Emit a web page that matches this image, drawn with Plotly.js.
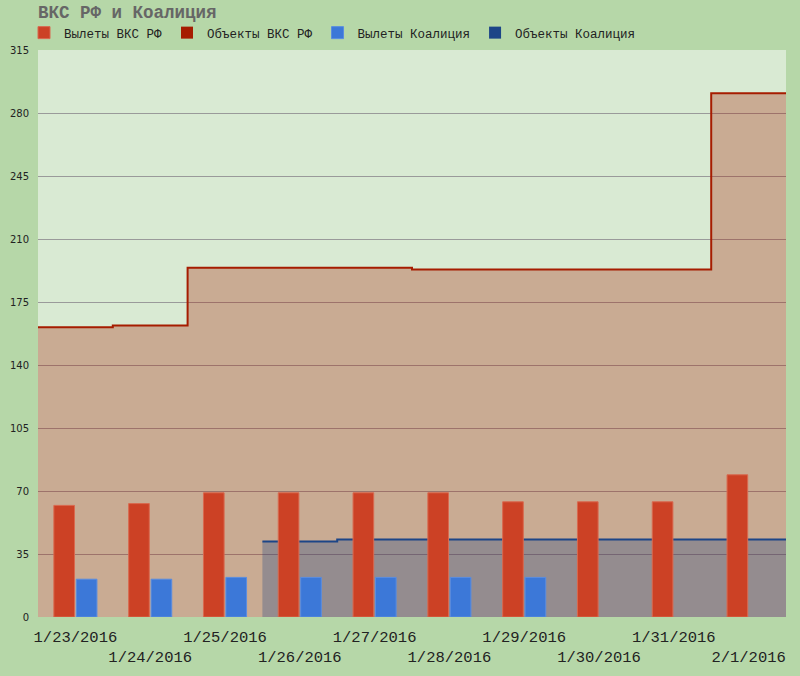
<!DOCTYPE html>
<html>
<head>
<meta charset="utf-8">
<script src="https://cdn.plot.ly/plotly-3.0.1.min.js"></script>
<style>
  body { margin: 0; background: #b6d7a8; }
  #chart { width: 800px; height: 676px; }
</style>
</head>
<body>
<div id="chart"></div>
<script>
// days on the x axis
var days = ['1/23/2016', '1/24/2016', '1/25/2016', '1/26/2016', '1/27/2016',
            '1/28/2016', '1/29/2016', '1/30/2016', '1/31/2016', '2/1/2016'];

// series
var sortiesRF   = [62, 63, 69, 69, 69, 69, 64, 64, 64, 79];
var targetsRF   = [161, 162, 194, 194, 194, 193, 193, 193, 193, 291];
var sortiesCoal = [21, 21, 22, 22, 22, 22, 22, null, null, null];
var targetsCoal = [null, null, null, 42, 43, 43, 43, 43, 43, 43];

var yTicks = [0, 35, 70, 105, 140, 175, 210, 245, 280, 315];

var idx = days.map(function (d, i) { return i; });

// step outline across each day's band
function steps(vals) {
  var xs = [], ys = [], last = null;
  vals.forEach(function (v, i) {
    if (v == null) return;
    xs.push(i - 0.5);
    ys.push(v);
    last = i;
  });
  xs.push(last + 0.5);
  ys.push(vals[last]);
  return { x: xs, y: ys };
}

var stRF = steps(targetsRF);
var stCoal = steps(targetsCoal);

// stagger tick labels on two rows
var tickText = days.map(function (d, i) { return i % 2 ? '<br>' + d : d; });

var traces = [
  {
    name: 'Объекты ВКС РФ', type: 'scatter', mode: 'lines',
    x: stRF.x, y: stRF.y,
    line: { shape: 'hv', color: '#a61c00', width: 2 },
    fill: 'tozeroy', fillcolor: 'rgba(166,28,0,0.3)',
    showlegend: false, zorder: 0
  },
  {
    name: 'Объекты Коалиция', type: 'scatter', mode: 'lines',
    x: stCoal.x, y: stCoal.y,
    line: { shape: 'hv', color: '#1c4587', width: 2 },
    fill: 'tozeroy', fillcolor: 'rgba(28,69,135,0.3)',
    showlegend: false, zorder: 0
  },
  {
    name: 'Вылеты ВКС РФ', type: 'bar',
    x: idx, y: sortiesRF,
    marker: { color: '#cc4125', line: { color: '#d9694f', width: 1 } },
    legendrank: 1, zorder: 1
  },
  {
    name: 'Вылеты Коалиция', type: 'bar',
    x: idx, y: sortiesCoal,
    marker: { color: '#3c78d8', line: { color: '#5a8de0', width: 1 } },
    legendrank: 3, zorder: 1
  },
  // legend swatches for the two area series (no value, hidden axes)
  {
    name: 'Объекты ВКС РФ', type: 'bar', x: [0], y: [null],
    xaxis: 'x2', yaxis: 'y2',
    marker: { color: '#a61c00' }, legendrank: 2
  },
  {
    name: 'Объекты Коалиция', type: 'bar', x: [0], y: [null],
    xaxis: 'x2', yaxis: 'y2',
    marker: { color: '#1c4587' }, legendrank: 4
  }
];

var layout = {
  width: 800, height: 676,
  paper_bgcolor: '#b6d7a8',
  plot_bgcolor: '#d9ead3',
  margin: { l: 38, r: 14, t: 50, b: 59 },
  barmode: 'group',
  bargap: 0.4,
  bargroupgap: 0.08,
  hovermode: false,
  title: {
    text: '<b>ВКС РФ и Коалиция</b>',
    font: { family: 'Liberation Mono', size: 17.5, color: '#666666' },
    xref: 'container', x: 38 / 800, xanchor: 'left',
    yref: 'container', y: 1 - 12 / 676, yanchor: 'middle'
  },
  showlegend: true,
  legend: {
    orientation: 'h',
    xref: 'container', x: 24 / 800, xanchor: 'left',
    yref: 'container', y: 1 - 33 / 676, yanchor: 'middle',
    bgcolor: 'rgba(0,0,0,0)',
    font: { family: 'Liberation Mono', size: 12.5, color: '#222222' },
    traceorder: 'normal'
  },
  xaxis: {
    range: [-0.5, 9.5],
    tickvals: idx,
    ticktext: tickText,
    tickangle: 0,
    ticks: '',
    showgrid: false,
    zeroline: false,
    showline: true, linecolor: '#333333', linewidth: 1,
    ticklabelstandoff: 5,
    tickfont: { family: 'Liberation Mono', size: 15.5, color: '#222222' }
  },
  yaxis: {
    range: [0, 315],
    tickvals: yTicks,
    ticks: '',
    showgrid: true, gridcolor: '#9a9a9a', gridwidth: 1,
    zeroline: false,
    ticklabelstandoff: 8,
    tickfont: { family: 'DejaVu Sans', size: 10, color: '#222222' }
  },
  xaxis2: { overlaying: 'x', visible: false, range: [-0.5, 9.5] },
  yaxis2: { overlaying: 'y', visible: false, range: [0, 315] }
};

Plotly.newPlot(document.getElementById('chart'), traces, layout, { displayModeBar: false, staticPlot: true });
</script>
</body>
</html>
